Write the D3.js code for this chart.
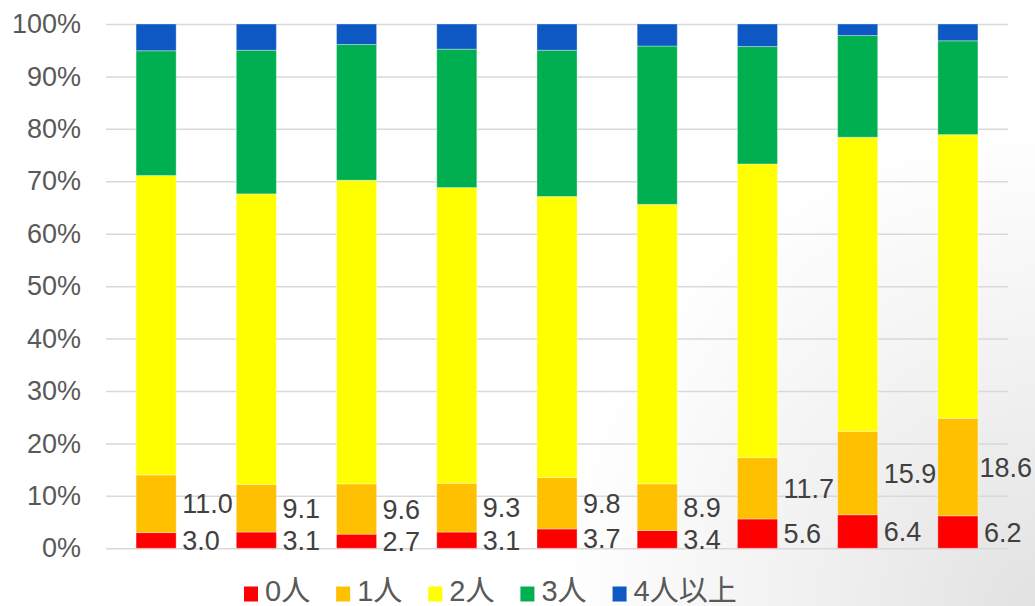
<!DOCTYPE html>
<html>
<head>
<meta charset="utf-8">
<script src="https://cdn.jsdelivr.net/npm/d3@7"></script>
<style>
  html, body { margin: 0; padding: 0; background: #fff; }
  svg { display: block; font-family: "Liberation Sans", Arial, "Noto Sans CJK JP", sans-serif; }
</style>
</head>
<body>
<svg id="chart" width="1035" height="606"></svg>
<script>
// Household groups (one stacked bar each, left to right)
const groups = ["1", "2", "3", "4", "5", "6", "7", "8", "9"];

// Share of each group by number of people (%)
const seriesNames = ["0人", "1人", "2人", "3人", "4人以上"];
const people0 = [3.0, 3.1, 2.7, 3.1, 3.7, 3.4, 5.6, 6.4, 6.2];
const people1 = [11.0, 9.1, 9.6, 9.3, 9.8, 8.9, 11.7, 15.9, 18.6];
const people2 = [57.1, 55.4, 57.9, 56.4, 53.6, 53.3, 56.0, 56.1, 54.1];
const people3 = [23.8, 27.4, 25.9, 26.4, 27.9, 30.2, 22.4, 19.4, 17.9];
const people4plus = [5.1, 5.0, 3.9, 4.8, 5.0, 4.2, 4.3, 2.2, 3.2];

const yTicks = [0, 10, 20, 30, 40, 50, 60, 70, 80, 90, 100];
const colors = ["#FF0000", "#FFC000", "#FFFF00", "#00B050", "#0E58C3"];

// Series that carry value labels beside the bars
const labelledSeries = ["0人", "1人"];

const seriesValues = [people0, people1, people2, people3, people4plus];
const table = groups.map((g, i) => {
  const row = { group: g };
  seriesNames.forEach((s, k) => { row[s] = seriesValues[k][i]; });
  return row;
});

const W = 1035, H = 606;
const margin = { left: 106, right: 27, top: 24, bottom: 57.7 };

const svg = d3.select("#chart");

// soft grey shading towards the lower-right corner
const defs = svg.append("defs");
const grad = defs.append("radialGradient")
  .attr("id", "cornerShade")
  .attr("gradientUnits", "userSpaceOnUse")
  .attr("cx", W).attr("cy", H).attr("r", 480);
grad.append("stop").attr("offset", "0%").attr("stop-color", "#e2e2e2");
grad.append("stop").attr("offset", "45%").attr("stop-color", "#f0f0f0");
grad.append("stop").attr("offset", "100%").attr("stop-color", "#ffffff");
svg.append("rect").attr("width", W).attr("height", H).attr("fill", "url(#cornerShade)");

const x = d3.scaleBand()
  .domain(groups)
  .range([margin.left, W - margin.right])
  .paddingInner(0.6)
  .paddingOuter(0.3);

const y = d3.scaleLinear()
  .domain([0, 100])
  .range([H - margin.bottom, margin.top]);

// y axis with full-width gridlines
const yAxis = d3.axisLeft(y)
  .tickValues(yTicks)
  .tickFormat(d => d + "%")
  .tickSize(-(W - margin.right - margin.left))
  .tickPadding(25);

const gy = svg.append("g")
  .attr("transform", `translate(${margin.left},0)`)
  .call(yAxis);
gy.select(".domain").remove();
gy.selectAll(".tick line")
  .attr("stroke", "#d9d9d9")
  .attr("stroke-width", 1.5);
gy.selectAll(".tick text")
  .attr("fill", "#595959")
  .attr("font-size", 27)
  .attr("font-family", "Liberation Sans, Arial, sans-serif");

// stacked bars
const stack = d3.stack().keys(seriesNames);
const layers = stack(table);

svg.append("g")
  .selectAll("g")
  .data(layers)
  .join("g")
  .attr("fill", (d, i) => colors[i])
  .selectAll("rect")
  .data(d => d)
  .join("rect")
  .attr("x", d => x(d.data.group))
  .attr("y", d => y(d[1]))
  .attr("width", x.bandwidth())
  .attr("height", d => y(d[0]) - y(d[1]))
  .attr("stroke", "#ffffff")
  .attr("stroke-opacity", 0.35)
  .attr("stroke-width", 1);

// value labels to the right of the bottom two segments
const labelLayer = svg.append("g")
  .attr("fill", "#404040")
  .attr("font-size", 27);

layers.filter(l => labelledSeries.includes(l.key)).forEach(layer => {
  layer.forEach(d => {
    const t = labelLayer.append("text")
      .attr("y", y((d[0] + d[1]) / 2))
      .attr("dy", "0.36em")
      .text(d3.format(".1f")(d.data[layer.key]));
    const w = t.node().getComputedTextLength();
    const xPos = Math.min(x(d.data.group) + x.bandwidth() + 6, W - 3 - w);
    t.attr("x", xPos);
  });
});

// legend
const legend = svg.append("g").attr("transform", "translate(244,594)");
let cursor = 0;
seriesNames.forEach((name, i) => {
  const item = legend.append("g").attr("transform", `translate(${cursor},0)`);
  item.append("rect")
    .attr("x", 0).attr("y", -7.5)
    .attr("width", 14).attr("height", 15)
    .attr("fill", colors[i]);
  const t = item.append("text")
    .attr("x", 21)
    .attr("y", 7)
    .attr("fill", "#595959")
    .attr("font-size", 29)
    .text(name);
  cursor += 21 + t.node().getComputedTextLength() + 26;
});
</script>
</body>
</html>
